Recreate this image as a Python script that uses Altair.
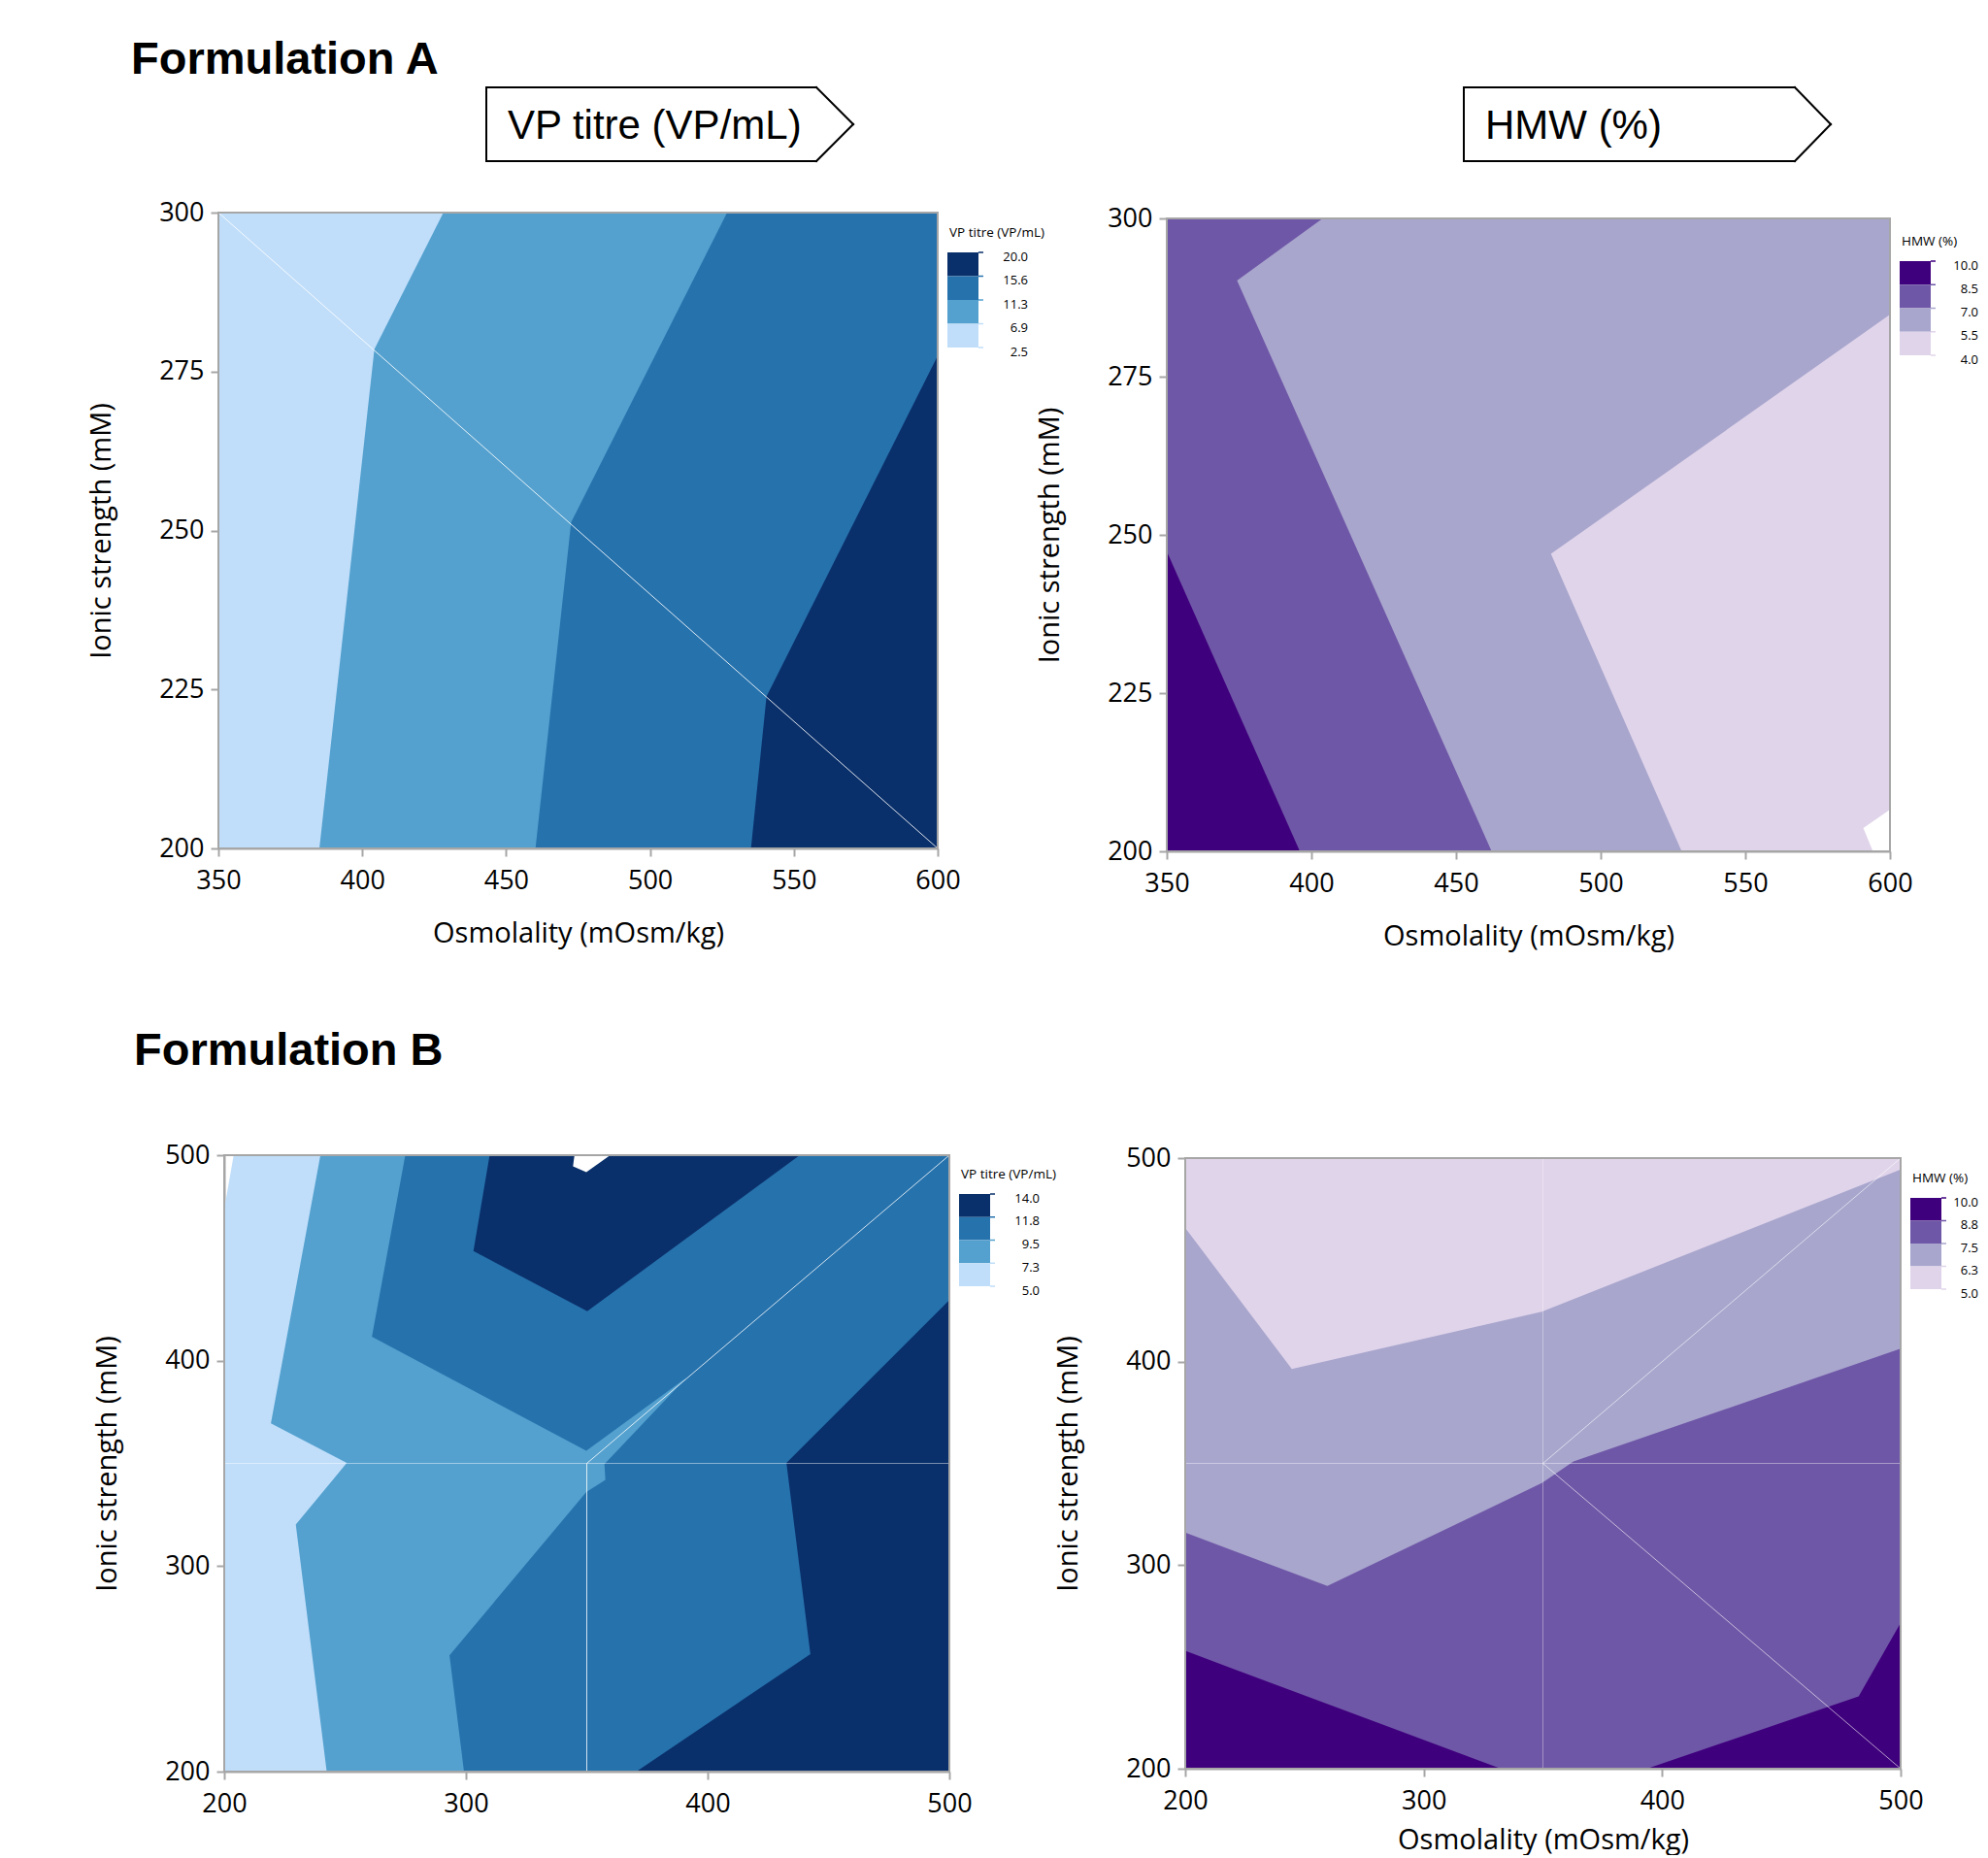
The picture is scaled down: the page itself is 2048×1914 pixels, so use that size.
import altair as alt
import pandas as pd

# ------------------------------------------------------------------ texts
FIG_TITLES = ["Formulation A", "Formulation B"]
VP_TITLE = "VP titre (VP/mL)"
HMW_TITLE = "HMW (%)"
X_TITLE = "Osmolality (mOsm/kg)"
Y_TITLE = "Ionic strength (mM)"

# ------------------------------------------------------------------ colours
BLUES = ["#c0defa", "#54a1cf", "#2672ad", "#0a306b"]
PURPLES = ["#e0d4ea", "#a8a6cd", "#6f57a7", "#3f007d"]
AXIS_GREY = "#a6a6a6"

# ------------------------------------------------------------------ axes
A_X_DOMAIN = [350, 600]
A_Y_DOMAIN = [200, 300]
A_X_TICKS = [350, 400, 450, 500, 550, 600]
A_Y_TICKS = [200, 225, 250, 275, 300]
B_X_DOMAIN = [200, 500]
B_Y_DOMAIN = [200, 500]
B_X_TICKS = [200, 300, 400, 500]
B_Y_TICKS = [200, 300, 400, 500]

# ------------------------------------------------------------------ legend ticks (as printed)
A_VP_LEGEND = [2.5, 6.9, 11.3, 15.6, 20.0]
A_HMW_LEGEND = [4.0, 5.5, 7.0, 8.5, 10.0]
B_VP_LEGEND = [5.0, 7.3, 9.5, 11.8, 14.0]
B_HMW_LEGEND = [5.0, 6.3, 7.5, 8.8, 10.0]

# representative value of each of the four filled bands
A_VP_BANDS = [4.7, 9.1, 13.45, 17.8]
A_HMW_BANDS = [4.75, 6.25, 7.75, 9.25]
B_VP_BANDS = [6.1, 8.4, 10.6, 12.9]
B_HMW_BANDS = [5.6, 6.9, 8.1, 9.4]

# ------------------------------------------------------------------ contour regions
# (band index, outline x, outline y) -- each region is "value >= band lower bound",
# drawn bottom to top
A_VP_REGIONS = [
    (0, [350, 600, 600, 350], [200, 200, 300, 300]),
    (1, [428.2, 404.2, 385.1, 600, 600], [300, 278.5, 200, 200, 300]),
    (2, [526.8, 472.6, 460.2, 600, 600], [300, 251.3, 200, 200, 300]),
    (3, [600, 540.5, 535.1, 600], [277.5, 223.9, 200, 200]),
]
A_VP_SEAMS = [([350, 600], [300, 200], 0.85)]

A_HMW_REGIONS = [
    (0, [350, 600, 600, 590.8, 594.1, 350], [300, 300, 206.6, 203.7, 200, 200]),
    (1, [350, 600, 600, 482.8, 528.0, 350], [300, 300, 284.8, 247.0, 200, 200]),
    (2, [350, 403.9, 374.3, 462.3, 350], [300, 300, 290.2, 200, 200]),
    (3, [350, 396.0, 350], [247.4, 200, 200]),
]
A_HMW_SEAMS = []

B_VP_REGIONS = [
    (0, [203.9, 500, 500, 200, 200], [500, 500, 200, 200, 473.8]),
    (1, [239.8, 500, 500, 242.4, 229.6, 250.7, 219.3],
        [500, 500, 200, 200, 320.2, 350.2, 369.5]),
    (2, [274.9, 500, 500, 299.2, 293.2, 349.8, 357.7, 357.3, 391.2, 349.8, 261.1],
        [500, 500, 200, 200, 256.6, 336.1, 342.0, 349.6, 391.7, 356.2, 411.6]),
    (3, [309.8, 438.1, 350.2, 303.1], [500, 500, 424.1, 453.3]),
    (3, [500, 500, 370.5, 442.5, 432.6], [429.5, 200, 200, 257.2, 350.2]),
]
B_VP_HOLES = [([344.9, 359.7, 349.8, 344.3], [500, 500, 491.7, 494.6])]
B_VP_SEAMS = [
    ([200, 500], [350, 350], 0.45),
    ([350, 350], [350, 200], 0.8),
    ([350, 500], [350, 500], 0.8),
]

B_HMW_REGIONS = [
    (0, [200, 500, 500, 200], [200, 200, 500, 500]),
    (1, [200, 244.7, 349.5, 500, 500, 200], [465.7, 396.4, 424.5, 494.4, 200, 200]),
    (2, [200, 259.6, 349.5, 362.8, 500, 500, 200],
        [316.0, 289.8, 340.3, 350.9, 406.4, 200, 200]),
    (3, [200, 332.4, 200], [257.9, 200, 200]),
    (3, [393.6, 482.4, 500, 500], [200, 235.5, 271.7, 200]),
]
B_HMW_SEAMS = [
    ([200, 500], [350, 350], 0.4),
    ([350, 350], [500, 200], 0.35),
    ([350, 500], [350, 500], 0.6),
    ([350, 500], [350, 200], 0.6),
]

# ------------------------------------------------------------------ layout (pixels)
LABEL_FONT = "Open Sans"
HEAD_FONT = "Liberation Sans"
ONE = pd.DataFrame({"k": [0]})


def text_layer(txt, x, y, size, weight="normal", font=HEAD_FONT, align="left",
               baseline="alphabetic"):
    return alt.Chart(ONE).mark_text(
        text=txt, font=font, fontSize=size, fontWeight=weight,
        align=align, baseline=baseline, color="black",
    ).encode(x=alt.value(x), y=alt.value(y))


def arrow_box(left, right, tip, top, bottom):
    mid = (top + bottom) / 2
    segs = [(left, top, right, top), (left, bottom, right, bottom),
            (left, top, left, bottom), (right, top, tip, mid), (right, bottom, tip, mid)]
    out = []
    for a, b, c, d in segs:
        out.append(alt.Chart(ONE).mark_rule(color="black", strokeWidth=2, strokeCap="square").encode(
            x=alt.value(a), y=alt.value(b), x2=alt.value(c), y2=alt.value(d)))
    return out


def legend_layers(title, labels, palette, x0, gtop, glen, lab_right):
    """Discrete colour key: blocks top (high) to bottom (low), labels at boundaries."""
    n = len(palette)
    bh = glen / n
    out = [text_layer(title, x0 + 2, gtop - 16, 13.5, font=LABEL_FONT)]
    for k in range(n):
        out.append(alt.Chart(ONE).mark_rect(color=palette[n - 1 - k]).encode(
            x=alt.value(x0), x2=alt.value(x0 + 32),
            y=alt.value(gtop + k * bh), y2=alt.value(gtop + (k + 1) * bh)))
    for j, lab in enumerate(reversed(labels)):
        yb = gtop + j * bh
        tick_col = palette[max(n - 1 - j, 0)]
        out.append(alt.Chart(ONE).mark_rule(color=tick_col, strokeWidth=1.5).encode(
            x=alt.value(x0 + 32), x2=alt.value(x0 + 37), y=alt.value(yb), y2=alt.value(yb)))
        out.append(text_layer(f"{lab:.1f}", x0 + lab_right, yb + 4.5, 13, font=LABEL_FONT,
                              align="right", baseline="middle"))
    return out


def build_panel(regions, bands, palette, legend_vals, legend_title, gtop, glen,
                xdom, xticks, ydom, yticks, width, height, x_title, x_title_pad,
                seams, holes, extra, dx=0, dy=0, lab_right=83):
    # dx, dy: offset of the plot area inside its view
    xs = alt.Scale(domain=xdom, nice=False, zero=False, range=[dx, width + dx])
    ys = alt.Scale(domain=ydom, nice=False, zero=False, range=[height + dy, dy])
    xa = alt.Axis(values=xticks, title=x_title, titlePadding=x_title_pad)
    ya = alt.Axis(values=yticks, title=Y_TITLE, offset=-dx)
    fs = alt.Scale(type="quantize", domain=[legend_vals[0], legend_vals[-1]], range=palette,
                   nice=False, zero=False)
    layers = []
    for k, (band, px, py) in enumerate(regions):
        df = pd.DataFrame({"x": px, "y": py, "i": list(range(len(px)))})
        df["v"] = bands[band]
        layers.append(alt.Chart(df).mark_line(strokeWidth=0).encode(
            x=alt.X("x:Q", scale=xs, axis=xa),
            y=alt.Y("y:Q", scale=ys, axis=ya),
            fill=alt.Fill("v:Q", scale=fs, legend=None),
            order=alt.Order("i:Q"),
        ))
    for px, py in holes:
        df = pd.DataFrame({"x": px, "y": py, "i": list(range(len(px)))})
        layers.append(alt.Chart(df).mark_line(strokeWidth=0, fill="white").encode(
            x=alt.X("x:Q", scale=xs, axis=xa),
            y=alt.Y("y:Q", scale=ys, axis=ya),
            order=alt.Order("i:Q"),
        ))
    if seams:
        rows = []
        for s, (px, py, op) in enumerate(seams):
            for i, (a, b) in enumerate(zip(px, py)):
                rows.append({"seg": s, "i": i, "x": a, "y": b, "op": op})
        layers.append(alt.Chart(pd.DataFrame(rows)).mark_line(stroke="white", strokeWidth=1).encode(
            x=alt.X("x:Q", scale=xs, axis=xa),
            y=alt.Y("y:Q", scale=ys, axis=ya),
            detail="seg:N",
            opacity=alt.Opacity("op:Q", scale=None),
            order=alt.Order("i:Q"),
        ))
    # plot frame
    layers.append(alt.Chart(ONE).mark_rect(fillOpacity=0, stroke=AXIS_GREY, strokeWidth=2).encode(
        x=alt.value(dx), x2=alt.value(width + dx), y=alt.value(dy), y2=alt.value(height + dy)))
    layers.extend(legend_layers(legend_title, legend_vals, palette, width + dx + 10,
                                gtop, glen, lab_right))
    layers.extend(extra)
    return alt.layer(*layers).properties(width=width + dx, height=height + dy)


# anchor that pins the figure's top-left corner to the page origin
anchor = alt.Chart(ONE).mark_rect(opacity=0).encode(
    x=alt.value(-216), x2=alt.value(-212), y=alt.value(-210), y2=alt.value(-206))

tl_extra = [anchor, text_layer(FIG_TITLES[0], -90, -143, 47, "bold"),
            text_layer(VP_TITLE, 298, -76, 42)] + arrow_box(276, 616, 654, -129, -53)
tr_extra = [text_layer(HMW_TITLE, 328, -76, 42)] + arrow_box(306, 647, 684, -129, -53)
bl_extra = [text_layer(FIG_TITLES[1], -87, -93, 47, "bold")]

tl = build_panel(A_VP_REGIONS, A_VP_BANDS, BLUES, A_VP_LEGEND, VP_TITLE, 41, 98,
                 A_X_DOMAIN, A_X_TICKS, A_Y_DOMAIN, A_Y_TICKS, 741, 655, X_TITLE, 27,
                 A_VP_SEAMS, [], tl_extra)
tr = build_panel(A_HMW_REGIONS, A_HMW_BANDS, PURPLES, A_HMW_LEGEND, HMW_TITLE, 50, 97,
                 A_X_DOMAIN, A_X_TICKS, A_Y_DOMAIN, A_Y_TICKS, 745, 652, X_TITLE, 27,
                 A_HMW_SEAMS, [], tr_extra, dy=6, lab_right=81)
bl = build_panel(B_VP_REGIONS, B_VP_BANDS, BLUES, B_VP_LEGEND, VP_TITLE, 40, 95,
                 B_X_DOMAIN, B_X_TICKS, B_Y_DOMAIN, B_Y_TICKS, 747, 635, None, 27,
                 B_VP_SEAMS, B_VP_HOLES, bl_extra, dx=6)
br = build_panel(B_HMW_REGIONS, B_HMW_BANDS, PURPLES, B_HMW_LEGEND, HMW_TITLE, 44, 94,
                 B_X_DOMAIN, B_X_TICKS, B_Y_DOMAIN, B_Y_TICKS, 737, 629, X_TITLE, 13,
                 B_HMW_SEAMS, [], [], dx=19, dy=3, lab_right=70)

chart = alt.concat(
    tl, tr, bl, br, columns=2, spacing={"row": 313, "column": 224},
    bounds="flush", align="none",
).resolve_scale(
    x="independent", y="independent", fill="independent"
).properties(
    padding=0, background="white"
).configure_view(
    stroke="transparent"
).configure_axis(
    domainColor=AXIS_GREY, domainWidth=2, tickColor=AXIS_GREY, tickWidth=2, tickSize=8,
    labelFont=LABEL_FONT, labelFontSize=27, labelColor="black", labelFlush=False,
    titleFont=LABEL_FONT, titleFontSize=29, titleFontWeight="normal", titleColor="black",
    grid=False,
).configure_axisX(
    labelPadding=12
).configure_axisY(
    labelPadding=7, titlePadding=44
)

chart.save("out.html", embed_options={"renderer": "svg", "actions": False})
